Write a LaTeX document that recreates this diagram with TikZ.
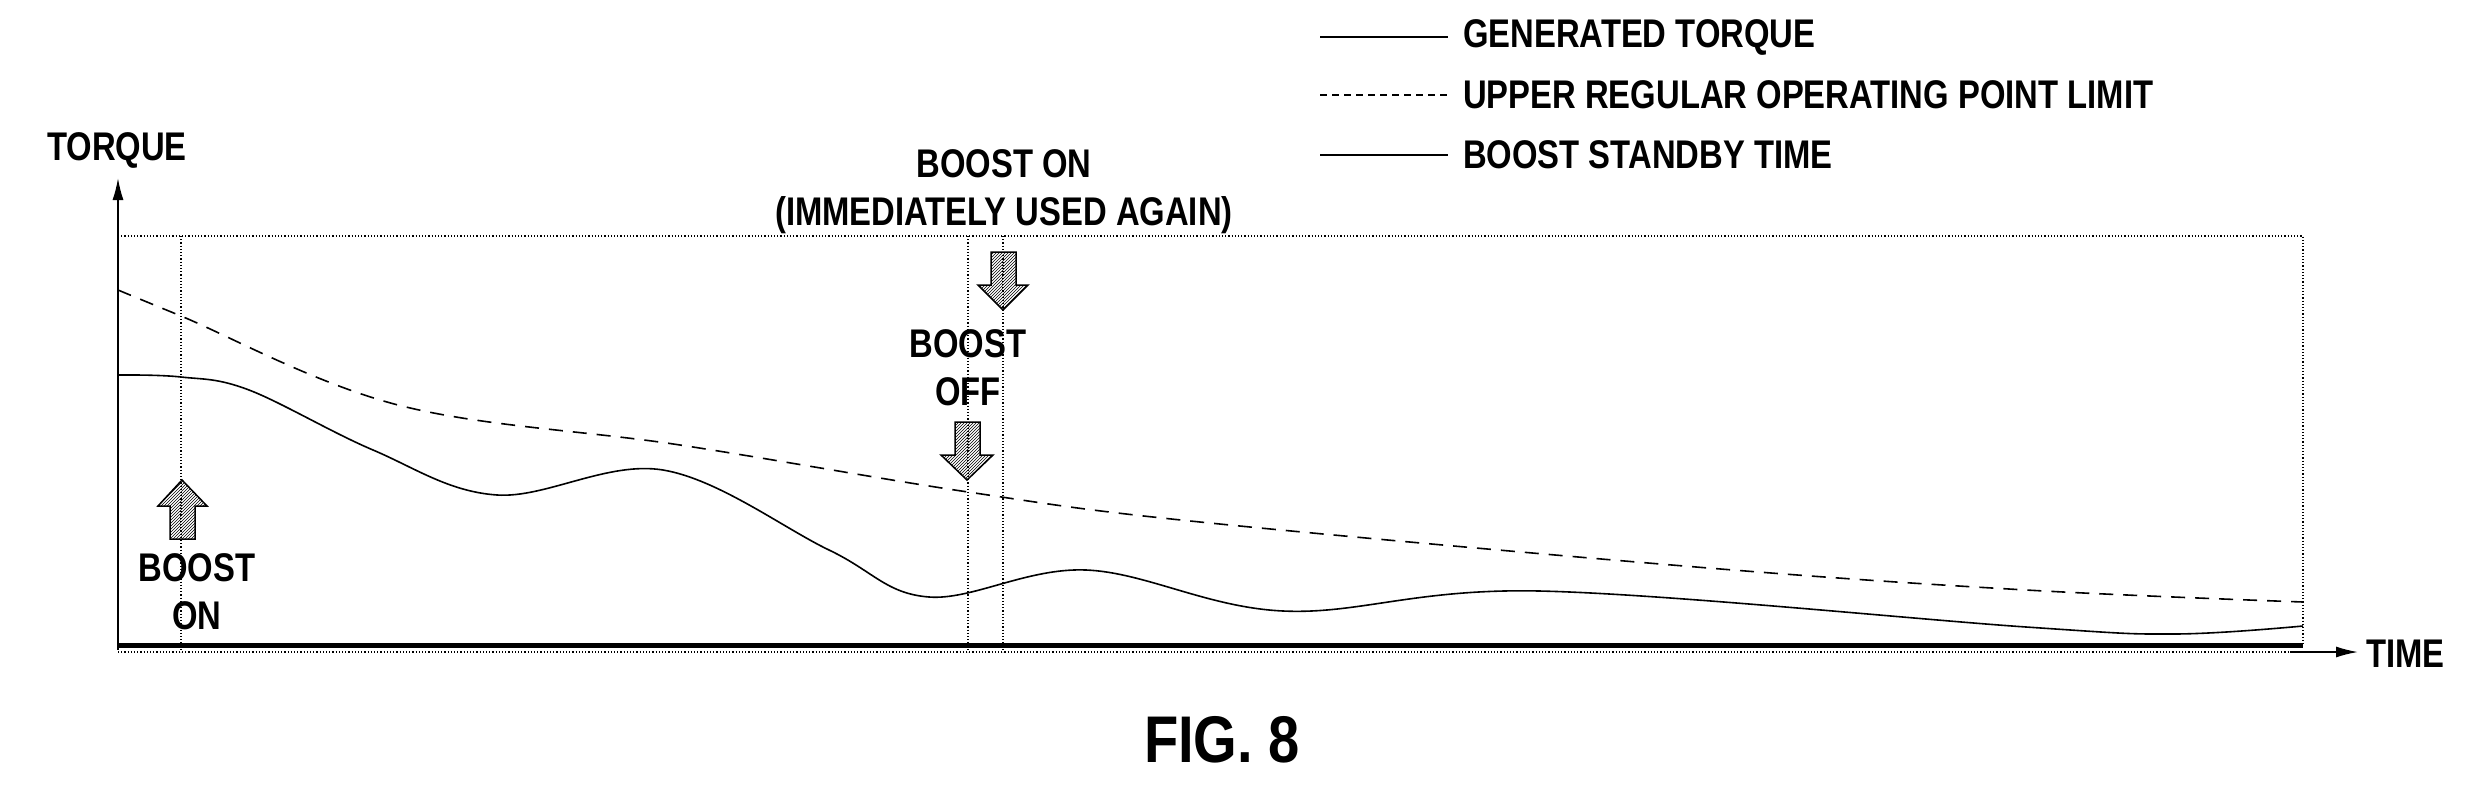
\documentclass[tikz,border=0pt]{standalone}
\usepackage{fontspec}
\setmainfont{Liberation Sans}
\usetikzlibrary{patterns,arrows.meta}
\begin{document}
\begin{tikzpicture}[x=1pt,y=-1pt,
  lbl/.style={font=\fontsize{40}{44}\selectfont\bfseries, inner sep=0pt, align=center, xscale=0.82},
  thin/.style={line width=1.6pt},
  dot/.style={line width=1.2pt, dotted},
  fat/.style={draw, line width=1.5pt, pattern=north east lines}]
\useasboundingbox (0,0) rectangle (2475,784);
% axes
\coordinate (o) at (118,652);
\coordinate (ytop) at (118,178);
\coordinate (xend) at (2358,652);
\draw[dot] (118,652) -- (2303,652);
\draw[line width=1.6pt,-{Latex[length=22pt,width=11pt]}] (118,650) -- (ytop);
\draw[line width=1.6pt,-{Latex[length=22pt,width=11pt]}] (2290,652) -- (xend);
\draw[line width=5pt] (118,645) -- (2303,645);
\draw[dot] (118,236) -- (2303,236) -- (2303,645);
\draw[dot] (181,236) -- (181,652);
\draw[dot] (968,236) -- (968,652);
\draw[dot] (1003,236) -- (1003,652);
\node[lbl] (ty) at (117,150) {TORQUE};
\node[lbl,anchor=west] (tx) at (2366,654) {TIME};
% curves
\draw[thin,dashed,dash pattern=on 14pt off 10pt] plot[smooth,tension=0.6] coordinates {(118,290) (181,316) (398,405) (680,445) (968,492) (1200,522) (1696,567) (2026,590) (2303,602)};
\draw[thin] plot[smooth,tension=0.6] coordinates {(118,375) (181,377) (249,390) (373,450) (497,495) (663,470) (829,550) (929,597) (1086,570) (1283,611) (1539,591) (2026,627) (2175,634) (2303,626)};
% fat arrows
\draw[fat] (170,539) -- (195,539) -- (195,506) -- (207,506) -- (182,480) -- (158,506) -- (170,506) -- cycle;
\draw[fat] (991,252) -- (1016,252) -- (1016,285) -- (1028,285) -- (1003,310) -- (978,285) -- (991,285) -- cycle;
\draw[fat] (955,422) -- (980,422) -- (980,455) -- (993,455) -- (967,480) -- (941,455) -- (955,455) -- cycle;
% labels
\node[lbl] (bon) at (197,592) {BOOST\\[4pt]ON};
\node[lbl] (bon2) at (1004,192) {BOOST ON\\[4pt](IMMEDIATELY USED AGAIN)};
\node[lbl] (boff) at (968,368) {BOOST\\[4pt]OFF};
\node[font=\fontsize{66}{70}\selectfont\bfseries,inner sep=0pt,xscale=0.85] (fig) at (1222,740) {FIG. 8};
% legend
\draw[line width=1.4pt] (1320,37) -- (1448,37);
\draw[line width=1.4pt,dash pattern=on 7pt off 5pt] (1320,95) -- (1448,95);
\draw[line width=2.6pt] (1320,155) -- (1448,155);
\node[lbl,anchor=west] (l1) at (1463,37) {GENERATED TORQUE};
\node[lbl,anchor=west] (l2) at (1463,95) {UPPER REGULAR OPERATING POINT LIMIT};
\node[lbl,anchor=west] (l3) at (1463,155) {BOOST STANDBY TIME};
\end{tikzpicture}
\end{document}
